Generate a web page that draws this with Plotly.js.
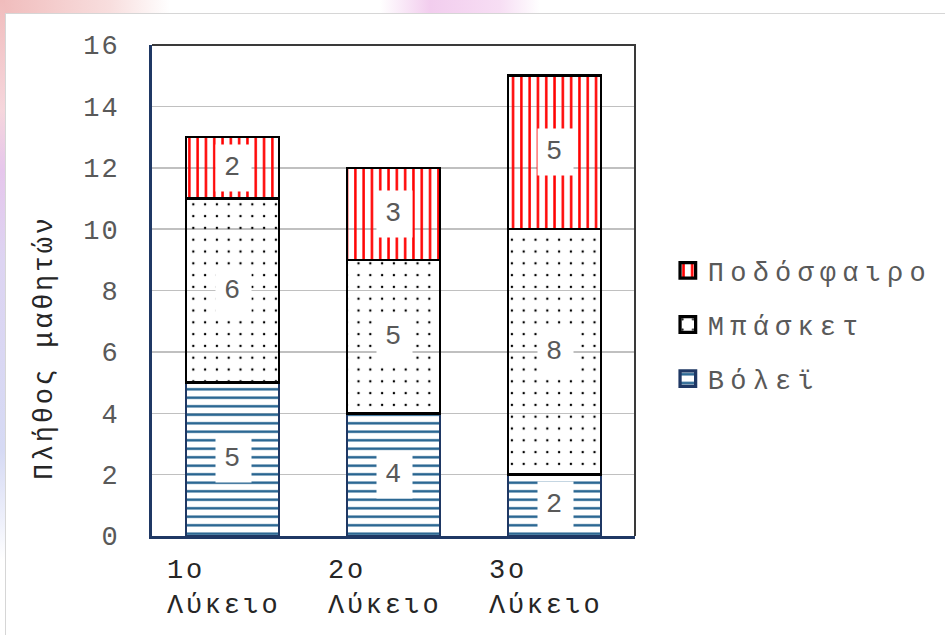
<!DOCTYPE html>
<html>
<head>
<meta charset="utf-8">
<script src="https://cdn.plot.ly/plotly-3.0.1.min.js"></script>
<style>
  html, body { margin:0; padding:0; width:945px; height:635px; overflow:hidden; background:#fff; }
  #topstrip { position:absolute; left:0; top:0; width:945px; height:13px;
    background: linear-gradient(to right, #f0bcbc 0px, #f8dede 110px, #ffffff 170px, #ffffff 380px, #f2cdee 430px, #f7def4 500px, #ffffff 540px, #ffffff 945px); }
  #leftstrip { position:absolute; left:0; top:0; width:5px; height:635px;
    background: linear-gradient(to bottom, #f0bcbc 0px, #f6d6dc 110px, #e6c6ec 170px, #ddd4f2 260px, #d6daf4 450px, #eef0fb 520px, #ffffff 560px); }
  #panel { position:absolute; left:5px; top:13px; width:940px; height:622px; border-left:1px solid #d6d6d6; border-top:1px solid #d6d6d6; background:#fff; overflow:hidden; }
  #chart { width:939px; height:621px; }
  .legendtext { letter-spacing:6.2px; }
  .annotation-text { letter-spacing:2.7px; }
  .ytick text { letter-spacing:2px; }
  .legendpoints path { transform: translate(20px, 0px) scale(1.3); }
</style>
</head>
<body>
<div id="topstrip"></div>
<div id="leftstrip"></div>
<div id="panel"><div id="chart"></div></div>
<script>
// ---- data ----
const categories = ['1ο Λύκειο', '2ο Λύκειο', '3ο Λύκειο'];
const volley   = [5, 4, 2];
const basket   = [6, 5, 8];
const football = [2, 3, 5];
const seriesNames = ['Βόλεϊ', 'Μπάσκετ', 'Ποδόσφαιρο'];
const yTitle = 'Πλήθος μαθητών';

const FONT = '"Liberation Mono", "Courier New", monospace';

const traces = [
  {
    type:'bar', name: seriesNames[0], x: categories, y: volley, legendgroup:'a', legendrank:3,
    marker:{ color:'white', line:{color:'#1f3864', width:2.5},
      pattern:{shape:'-', fgcolor:'#1d5e8c', size:8.5, solidity:0.28} },
    hoverinfo:'skip'
  },
  {
    type:'bar', name: seriesNames[1], x: categories, y: basket, legendgroup:'b', legendrank:2,
    marker:{ color:'white', line:{color:'#000000', width:2.5},
      pattern:{shape:'.', fgcolor:'#000000', size:11.8, solidity:0.035} },
    hoverinfo:'skip'
  },
  {
    type:'bar', name: seriesNames[2], x: categories, y: football, legendgroup:'c', legendrank:1,
    marker:{ color:'white', line:{color:'#000000', width:2.5},
      pattern:{shape:'|', fgcolor:'#ff0000', size:8.3, solidity:0.3} },
    hoverinfo:'skip'
  }
];

// data label annotations (white boxes) at segment centers
const annotations = [];
const allSeries = [volley, basket, football];
categories.forEach((c, i) => {
  let base = 0;
  allSeries.forEach(s => {
    annotations.push({
      x: c, y: base + s[i] / 2, xref:'x', yref:'y', text: String(s[i]),
      showarrow:false, bgcolor:'white', borderpad:8, xshift:1,
      font:{family:FONT, size:27, color:'#595959'}
    });
    base += s[i];
  });
  // category labels, left aligned, two lines
  annotations.push({
    x: c, y: 0, xref:'x', yref:'paper', text: c.replace(' ', '<br>'),
    showarrow:false, xanchor:'left', yanchor:'top', align:'left',
    xshift:-68, yshift:-18,
    font:{family:FONT, size:27, color:'#262626'}
  });
});
// y axis title
annotations.push({
  x:-0.2215, y:0.383, xref:'paper', yref:'paper', text: yTitle, textangle:-90,
  showarrow:false, xanchor:'center', yanchor:'middle',
  font:{family:FONT, size:27, color:'#262626'}
});

const layout = {
  width:939, height:621,
  margin:{l:146, r:310, t:31, b:99, autoexpand:false},
  paper_bgcolor:'white', plot_bgcolor:'white',
  barmode:'stack', bargap:0.42,
  showlegend:true,
  legend:{ x:1.068, xanchor:'left', y:0.43, yanchor:'middle', traceorder:'grouped',
    font:{family:FONT, size:27, color:'#595959'}, tracegroupgap:16, bgcolor:'rgba(0,0,0,0)' },
  xaxis:{ showticklabels:false, showline:true, linecolor:'#1f3864', linewidth:3, ticks:'', showgrid:false, zeroline:false, fixedrange:true },
  yaxis:{ range:[0,16], dtick:2, showline:true, linecolor:'#1f3864', linewidth:3, ticks:'',
    showgrid:true, gridcolor:'#c0c0c0', gridwidth:1.5, zeroline:false,
    tickfont:{family:FONT, size:27, color:'#595959'}, ticklabelstandoff:24, fixedrange:true },
  shapes:[
    { type:'path', xref:'paper', yref:'paper', path:'M0,1 L1,1 L1,0', line:{color:'#3a3a3a', width:2}, layer:'above' }
  ],
  annotations: annotations
};

Plotly.newPlot('chart', traces, layout, {displayModeBar:false, staticPlot:true});
</script>
</body>
</html>
